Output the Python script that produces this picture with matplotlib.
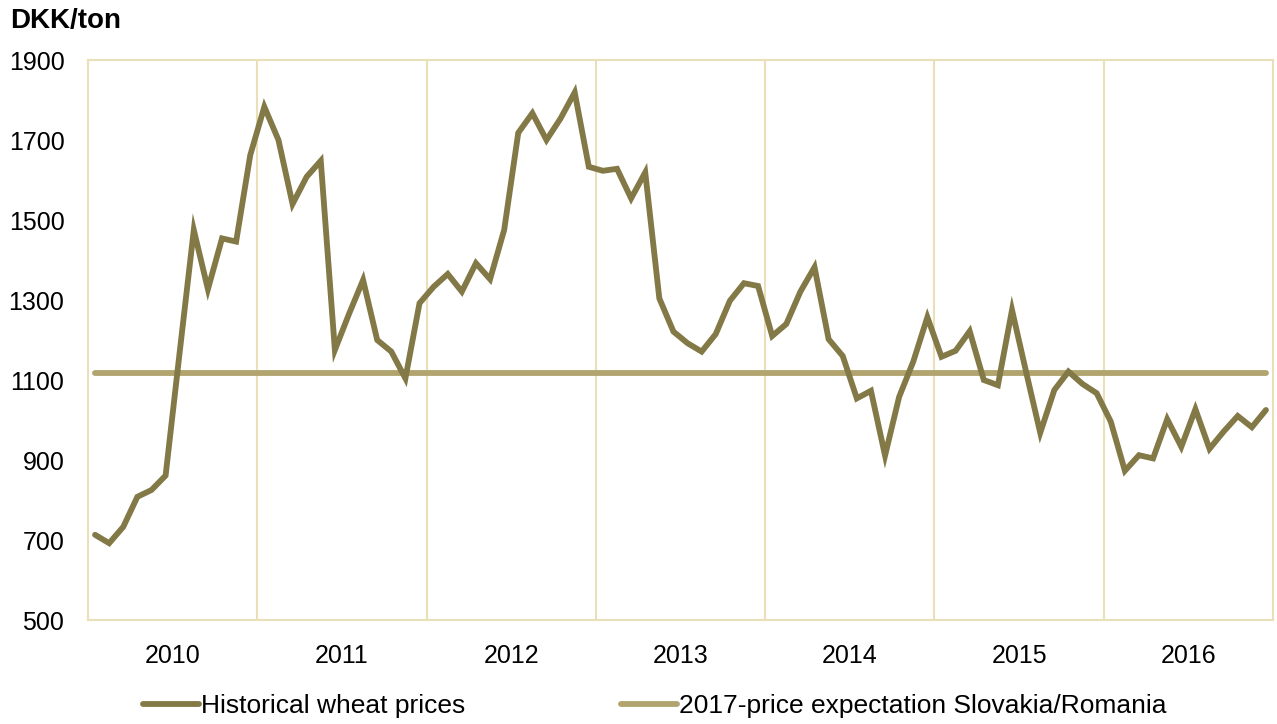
import matplotlib
matplotlib.use("Agg")
import matplotlib.pyplot as plt
import numpy as np

plt.rcParams['font.family'] = ['Liberation Sans', 'DejaVu Sans']

years = ['2010', '2011', '2012', '2013', '2014', '2015', '2016']
wheat_prices = [
    713, 692, 733, 808, 825, 861, 1170, 1475, 1327, 1454, 1446, 1662,
    1783, 1700, 1540, 1608, 1648, 1175, 1265, 1350, 1200, 1171, 1104, 1292,
    1333, 1365, 1321, 1392, 1352, 1475, 1718, 1767, 1700, 1754, 1819, 1633,
    1623, 1628, 1554, 1619, 1304, 1221, 1192, 1171, 1215, 1298, 1342, 1335,
    1210, 1240, 1321, 1382, 1202, 1160, 1054, 1073, 911, 1058, 1146, 1257,
    1158, 1173, 1222, 1100, 1087, 1275, 1120, 968, 1075, 1121, 1090, 1067,
    996, 873, 912, 904, 1002, 933, 1027, 928, 971, 1010, 982, 1025,
]
expectation_2017 = 1117
series_names = ['Historical wheat prices', '2017-price expectation Slovakia/Romania']

c_hist = '#837946'
c_exp = '#B2A46F'
c_grid = '#E9DFB8'

fig = plt.figure(figsize=(12.77, 7.24), dpi=100)
ax = fig.add_axes([88/1277, 1-620/724, (1273-88)/1277, (620-60)/724])

n = len(wheat_prices)
x = np.arange(n) + 0.5
ax.plot(x, wheat_prices, color=c_hist, lw=4.2, solid_joinstyle='miter', solid_capstyle='round', zorder=3, label=series_names[0])
ax.plot(x, [expectation_2017]*n, color=c_exp, lw=4.2, solid_capstyle='round', zorder=2, label=series_names[1])

ax.set_xlim(0, n)
ax.set_ylim(500, 1900)
ax.set_yticks(range(500, 1901, 200))
ax.set_xticks([12*i + 6 for i in range(len(years))])
ax.set_xticklabels(years)
for k in range(1, len(years)):
    ax.axvline(12*k, color=c_grid, lw=1.5, zorder=1)
for s in ax.spines.values():
    s.set_color(c_grid)
    s.set_linewidth(1.5)
ax.tick_params(axis='both', length=0, labelsize=18, colors='black')
ax.tick_params(axis='y', pad=17)
ax.tick_params(axis='x', pad=17)

fig.text(10/1277, 1-8/724, 'DKK/ton', fontsize=20, fontweight='bold', va='top', ha='left')

fig.legend(loc='center', bbox_to_anchor=(655/1277, 1-706/724), ncol=2, frameon=False,
           fontsize=19, handlelength=2.1, handletextpad=0.1, columnspacing=5.9)

fig.savefig('out.png', dpi=100)
